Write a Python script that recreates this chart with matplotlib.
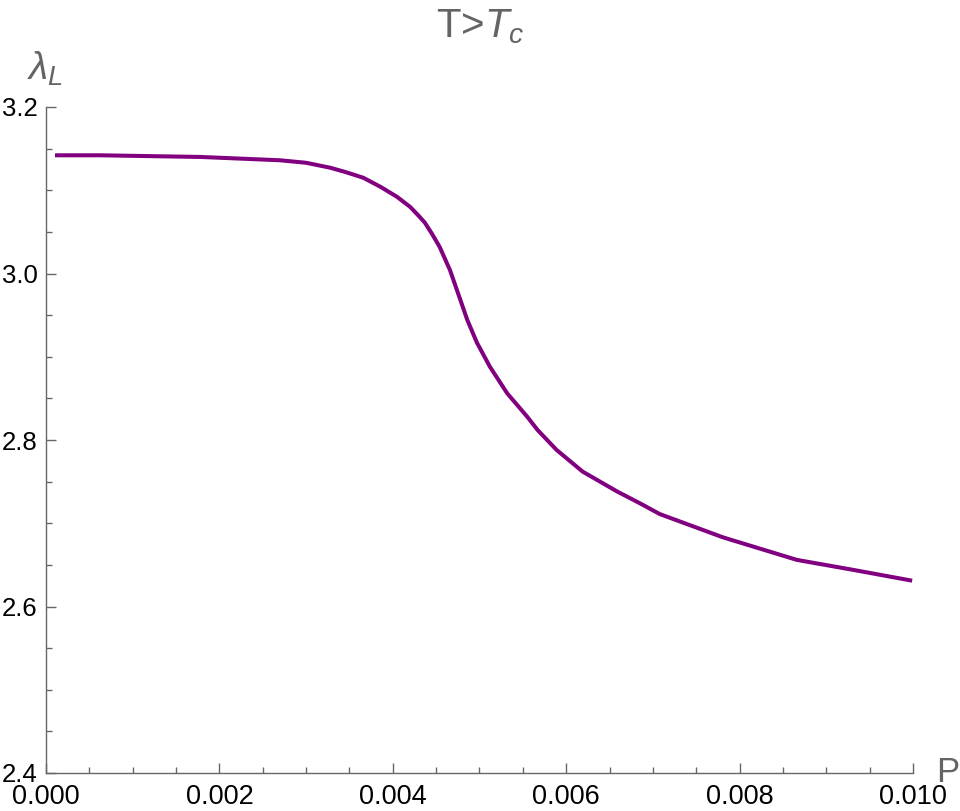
import matplotlib
matplotlib.use("Agg")
import matplotlib.pyplot as plt
from matplotlib.ticker import MultipleLocator, FormatStrFormatter

# values
P = [0.000104, 0.00062, 0.00178, 0.00270, 0.00300, 0.00328, 0.00345, 0.00366,
     0.00386, 0.00405, 0.00420, 0.00431, 0.00437, 0.00445, 0.00454, 0.00466,
     0.00474, 0.00486, 0.00497, 0.00512, 0.00532, 0.00555, 0.00567, 0.00589,
     0.00619, 0.00659, 0.00685, 0.00708, 0.00781, 0.00866, 0.00931, 0.00999]
lam_L = [3.142, 3.142, 3.140, 3.136, 3.133, 3.127, 3.122, 3.115,
         3.104, 3.092, 3.080, 3.068, 3.061, 3.048, 3.032, 3.004,
         2.980, 2.944, 2.917, 2.888, 2.856, 2.828, 2.812, 2.788,
         2.762, 2.738, 2.724, 2.711, 2.683, 2.656, 2.644, 2.631]

x_ticks = [0.000, 0.002, 0.004, 0.006, 0.008, 0.010]
y_ticks = [2.4, 2.6, 2.8, 3.0, 3.2]

plt.rcParams['font.family'] = ['Liberation Sans', 'DejaVu Sans']
plt.rcParams['mathtext.fontset'] = 'custom'
plt.rcParams['mathtext.rm'] = 'Liberation Sans'
plt.rcParams['mathtext.it'] = 'Liberation Sans:italic'

AXIS_GRAY = '#666666'
LABEL_GRAY = '#646464'

fig = plt.figure(figsize=(9.6, 8.11), dpi=100)
ax = fig.add_axes([46 / 960, 38 / 811, 867 / 960, 666 / 811])

ax.plot(P, lam_L, color='#800080', lw=2.9, solid_capstyle='butt',
        solid_joinstyle='round')

ax.set_xlim(0, 0.010)
ax.set_ylim(2.4, 3.2)
ax.set_xticks(x_ticks)
ax.set_yticks(y_ticks)
ax.xaxis.set_major_formatter(FormatStrFormatter('%.3f'))
ax.yaxis.set_major_formatter(FormatStrFormatter('%.1f'))
ax.xaxis.set_minor_locator(MultipleLocator(0.0005))
ax.yaxis.set_minor_locator(MultipleLocator(0.05))

for s in ['top', 'right']:
    ax.spines[s].set_visible(False)
for s in ['left', 'bottom']:
    ax.spines[s].set_color(AXIS_GRAY)
    ax.spines[s].set_linewidth(1.0)

ax.tick_params(which='both', direction='in', color=AXIS_GRAY, width=1.0,
               labelcolor='black')
ax.tick_params(which='major', length=7.5)
ax.tick_params(which='minor', length=4.5)
ax.tick_params(axis='x', which='major', pad=8, labelsize=19.5)
ax.tick_params(axis='y', which='major', pad=6, labelsize=18.5)

fig.text(0.5, 1 - 37 / 811, r'T>$T_c$', ha='center', va='baseline',
         fontsize=29, color=LABEL_GRAY)
fig.text(45 / 960, 1 - 80 / 811, r'$\lambda_L$', ha='center', va='baseline',
         fontsize=28, color=LABEL_GRAY)
fig.text(936 / 960, 1 - 782 / 811, 'P', ha='left', va='baseline',
         fontsize=25, color=LABEL_GRAY)

fig.savefig('out.png', dpi=100)
